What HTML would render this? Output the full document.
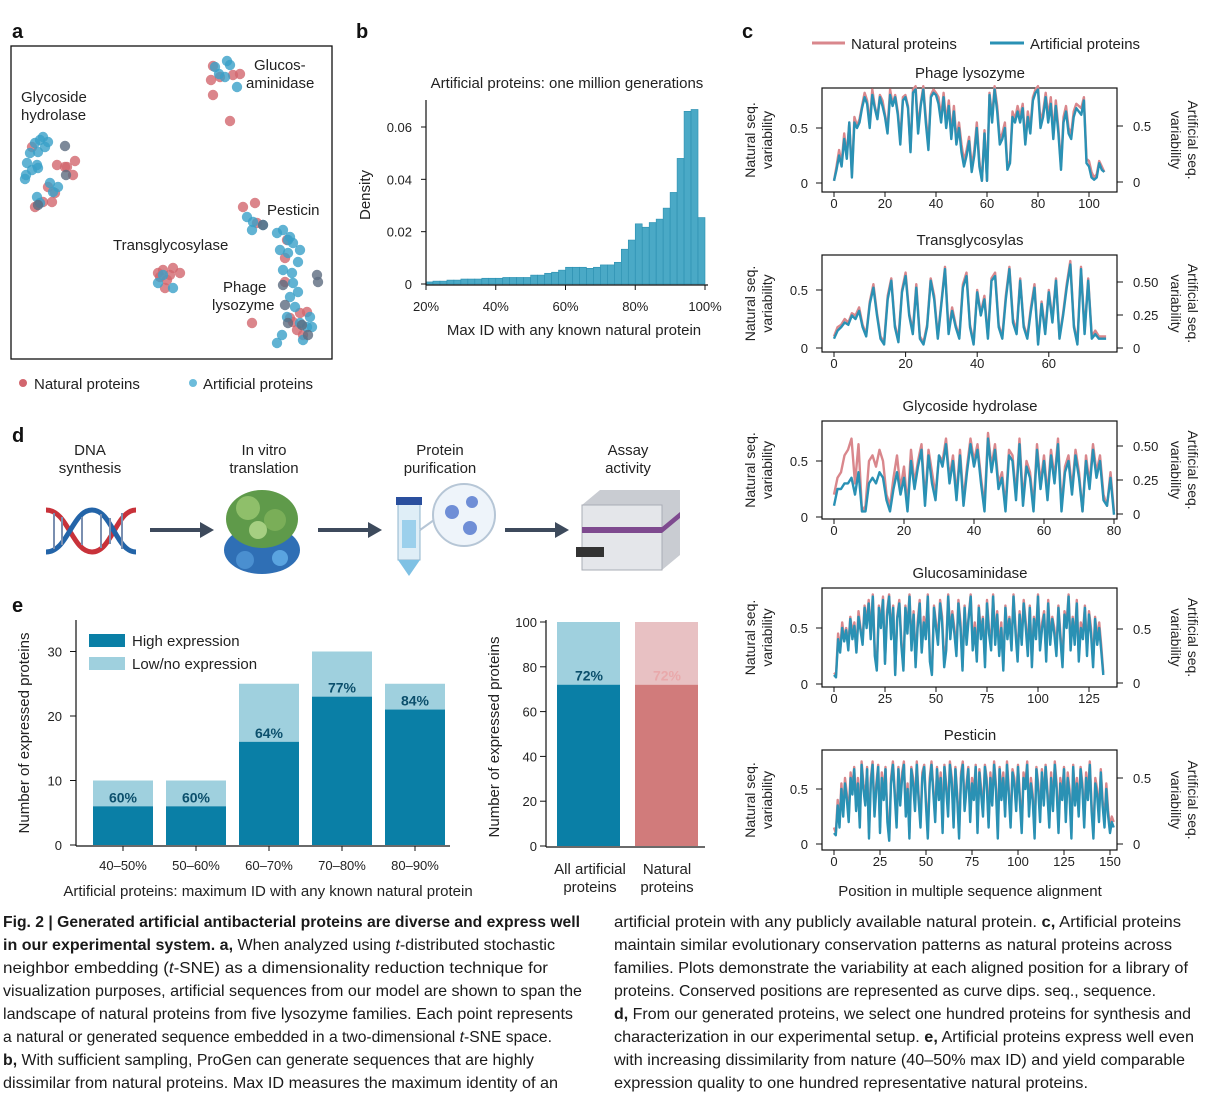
<!DOCTYPE html>
<html><head><meta charset="utf-8"><style>
html,body{margin:0;padding:0;background:#fff;}
svg{display:block;font-family:"Liberation Sans",sans-serif;}
</style></head><body>
<svg id="fig" width="1209" height="1094" viewBox="0 0 1209 1094" xmlns="http://www.w3.org/2000/svg">
<g font-weight="bold" font-size="20" fill="#111">
<text x="12" y="38">a</text>
<text x="356" y="38">b</text>
<text x="742" y="38">c</text>
<text x="12" y="442">d</text>
<text x="12" y="612">e</text>
</g>
<!-- panel a -->
<g id="pa">
<rect x="11" y="46" width="321" height="313" fill="none" stroke="#111" stroke-width="1.3"/>
<g id="pts"></g>
<g font-size="15" fill="#222">
<text x="254" y="70">Glucos-</text>
<text x="246" y="88">aminidase</text>
<text x="21" y="102">Glycoside</text>
<text x="21" y="120">hydrolase</text>
<text x="267" y="215">Pesticin</text>
<text x="113" y="250">Transglycosylase</text>
<text x="223" y="292">Phage</text>
<text x="212" y="310">lysozyme</text>
</g>
<circle cx="23" cy="383" r="4" fill="#d2666e"/>
<text x="34" y="389" font-size="15" fill="#222">Natural proteins</text>
<circle cx="193" cy="383" r="4" fill="#6cbcdb"/>
<text x="203" y="389" font-size="15" fill="#222">Artificial proteins</text>
</g>
<!-- panel b -->
<g id="pb">
<text x="567" y="88" font-size="15" text-anchor="middle" fill="#222">Artificial proteins: one million generations</text>
<g id="hist"></g>
<text transform="translate(370,195) rotate(-90)" font-size="15" text-anchor="middle" fill="#222">Density</text>
<text x="574" y="335" font-size="15" text-anchor="middle" fill="#222">Max ID with any known natural protein</text>
</g>
<!-- panel c -->
<g id="pc">
<line x1="812" y1="43" x2="845" y2="43" stroke="#d9878c" stroke-width="3"/>
<text x="851" y="49" font-size="15" fill="#222">Natural proteins</text>
<line x1="990" y1="43" x2="1024" y2="43" stroke="#2a91b4" stroke-width="3"/>
<text x="1030" y="49" font-size="15" fill="#222">Artificial proteins</text>
<g id="lines"></g>
<text x="970" y="896" font-size="15" text-anchor="middle" fill="#222">Position in multiple sequence alignment</text>
</g>
<!-- panel d -->
<g id="pd" font-size="15" fill="#222" text-anchor="middle">
<text x="90" y="455">DNA</text>
<text x="90" y="473">synthesis</text>
<text x="264" y="455">In vitro</text>
<text x="264" y="473">translation</text>
<text x="440" y="455">Protein</text>
<text x="440" y="473">purification</text>
<text x="628" y="455">Assay</text>
<text x="628" y="473">activity</text>
<g>
<path d="M46,510 C68,510 72,552 92,552 C112,552 116,510 136,510" fill="none" stroke="#c8323a" stroke-width="5"/>
<path d="M46,552 C68,552 72,510 92,510 C112,510 116,552 136,552" fill="none" stroke="#2364a8" stroke-width="5"/>
<g stroke="#7a8fb0" stroke-width="2"><line x1="54" y1="513" x2="54" y2="549"/><line x1="62" y1="517" x2="62" y2="545"/><line x1="101" y1="514" x2="101" y2="548"/><line x1="110" y1="518" x2="110" y2="544"/><line x1="122" y1="513" x2="122" y2="549"/><line x1="82" y1="517" x2="82" y2="545"/></g>
</g>
<g fill="#3d4a5c">
<rect x="150" y="528" width="52" height="4"/><polygon points="200,522 214,530 200,538"/>
<rect x="318" y="528" width="52" height="4"/><polygon points="368,522 382,530 368,538"/>
<rect x="505" y="528" width="52" height="4"/><polygon points="555,522 569,530 555,538"/>
</g>
<g>
<ellipse cx="262" cy="550" rx="38" ry="24" fill="#2f6fb5"/>
<ellipse cx="262" cy="519" rx="36" ry="29" fill="#5f9a4a"/>
<circle cx="248" cy="508" r="12" fill="#8fbf6a"/><circle cx="275" cy="520" r="11" fill="#7aae58"/><circle cx="258" cy="530" r="9" fill="#a6cf82"/>
<circle cx="245" cy="560" r="9" fill="#4a8fd0"/><circle cx="280" cy="558" r="8" fill="#5aa4e0"/>
</g>
<g>
<rect x="398" y="502" width="22" height="58" fill="#dfeef7" stroke="#8fb4cc"/>
<rect x="396" y="497" width="26" height="8" fill="#2a4f9e"/>
<polygon points="398,560 420,560 409,576" fill="#7fc1e4"/>
<rect x="402" y="520" width="14" height="28" fill="#9cd0ec"/>
<circle cx="464" cy="515" r="31" fill="#eef4fa" stroke="#b6c6d6" stroke-width="2"/>
<line x1="420" y1="530" x2="434" y2="520" stroke="#b6c6d6" stroke-width="2"/>
<circle cx="452" cy="512" r="7" fill="#6f8ed6"/><circle cx="472" cy="502" r="6" fill="#6f8ed6"/><circle cx="470" cy="528" r="7" fill="#6f8ed6"/>
</g>
<g>
<polygon points="582,505 600,490 680,490 680,555 662,570 582,570" fill="#c9ccd2"/>
<rect x="582" y="505" width="80" height="65" fill="#e4e6ea" stroke="#a9adb5"/>
<polygon points="582,527 662,527 680,512 680,518 662,533 582,533" fill="#7e4a8f"/>
<rect x="576" y="547" width="28" height="10" fill="#333"/>
</g>
</g>
<!-- panel e -->
<g id="pe">
<g id="bars"></g>
<rect x="89" y="634" width="36" height="13" fill="#0a7fa6"/>
<text x="132" y="646" font-size="15" fill="#222">High expression</text>
<rect x="89" y="657" width="36" height="13" fill="#9fd0de"/>
<text x="132" y="669" font-size="15" fill="#222">Low/no expression</text>
<text transform="translate(29,733) rotate(-90)" font-size="15" text-anchor="middle" fill="#222">Number of expressed proteins</text>
<text x="268" y="896" font-size="15" text-anchor="middle" fill="#222">Artificial proteins: maximum ID with any known natural protein</text>
<text transform="translate(499,737) rotate(-90)" font-size="15" text-anchor="middle" fill="#222">Number of expressed proteins</text>
<g font-size="15" fill="#222" text-anchor="middle">
<text x="590" y="874">All artificial</text>
<text x="590" y="892">proteins</text>
<text x="667" y="874">Natural</text>
<text x="667" y="892">proteins</text>
</g>
</g>
<!-- caption -->
<g font-size="16" fill="#1a1a1a">
<text x="3" y="927" textLength="577" lengthAdjust="spacingAndGlyphs" font-weight="bold">Fig. 2 | Generated artificial antibacterial proteins are diverse and express well</text>
<text x="3" y="950" textLength="552" lengthAdjust="spacingAndGlyphs"><tspan font-weight="bold">in our experimental system. a,</tspan> When analyzed using <tspan font-style="italic">t</tspan>-distributed stochastic</text>
<text x="3" y="973" textLength="545" lengthAdjust="spacingAndGlyphs">neighbor embedding (<tspan font-style="italic">t</tspan>-SNE) as a dimensionality reduction technique for</text>
<text x="3" y="996" textLength="579" lengthAdjust="spacingAndGlyphs">visualization purposes, artificial sequences from our model are shown to span the</text>
<text x="3" y="1019" textLength="570" lengthAdjust="spacingAndGlyphs">landscape of natural proteins from five lysozyme families. Each point represents</text>
<text x="3" y="1042" textLength="549" lengthAdjust="spacingAndGlyphs">a natural or generated sequence embedded in a two-dimensional <tspan font-style="italic">t</tspan>-SNE space.</text>
<text x="3" y="1065" textLength="531" lengthAdjust="spacingAndGlyphs"><tspan font-weight="bold">b,</tspan> With sufficient sampling, ProGen can generate sequences that are highly</text>
<text x="3" y="1088" textLength="555" lengthAdjust="spacingAndGlyphs">dissimilar from natural proteins. Max ID measures the maximum identity of an</text>
<text x="614" y="927" textLength="567" lengthAdjust="spacingAndGlyphs">artificial protein with any publicly available natural protein. <tspan font-weight="bold">c,</tspan> Artificial proteins</text>
<text x="614" y="950" textLength="558" lengthAdjust="spacingAndGlyphs">maintain similar evolutionary conservation patterns as natural proteins across</text>
<text x="614" y="973" textLength="574" lengthAdjust="spacingAndGlyphs">families. Plots demonstrate the variability at each aligned position for a library of</text>
<text x="614" y="996" textLength="542" lengthAdjust="spacingAndGlyphs">proteins. Conserved positions are represented as curve dips. seq., sequence.</text>
<text x="614" y="1019" textLength="577" lengthAdjust="spacingAndGlyphs"><tspan font-weight="bold">d,</tspan> From our generated proteins, we select one hundred proteins for synthesis and</text>
<text x="614" y="1042" textLength="580" lengthAdjust="spacingAndGlyphs">characterization in our experimental setup. <tspan font-weight="bold">e,</tspan> Artificial proteins express well even</text>
<text x="614" y="1065" textLength="571" lengthAdjust="spacingAndGlyphs">with increasing dissimilarity from nature (40–50% max ID) and yield comparable</text>
<text x="614" y="1088" textLength="474" lengthAdjust="spacingAndGlyphs">expression quality to one hundred representative natural proteins.</text>
</g>
</svg>
<script>
// ---------- panel a data (t-SNE coordinates) ----------
const natX=[202,200,209,222,229,202,219, 21,46,56,64,62,54,37,44,41,24,32, 152,162,169,149,156,154,147,159, 232,244,246,276,274,274,241,289,296,282,286,292,279];
const natY=[20,34,31,29,28,49,75, 101,119,121,115,129,121,141,147,156,161,156, 224,222,227,231,234,242,227,229, 161,157,177,194,212,236,277,267,266,276,284,289,272];
const artX=[216,214,226,204,219,208, 32,29,37,24,34,27,19,16,26,21,27,15,14,39,47,42,26,29, 152,162,147, 236,242,241,252,266,272,279,269,282,289,277,287,272,281,282,287,279,284,276,299,289,296,301,271,266,292,277];
const artY=[15,31,41,21,19,28, 91,94,96,97,101,106,107,117,119,124,122,129,133,137,141,146,151,157, 229,242,237, 171,176,184,179,187,184,191,204,197,204,207,216,224,227,237,246,251,261,271,271,277,281,281,289,297,294,194];
const darkX=[54,55,27,252,272,274,306,307,297,277,291];
const darkY=[100,129,159,179,239,259,229,236,289,277,279];
// ---------- panel b data ----------
const histBinStart=[20,22,24,26,28,30,32,34,36,38,40,42,44,46,48,50,52,54,56,58,60,62,64,66,68,70,72,74,76,78,80,82,84,86,88,90,92,94,96,98];
const histDensity=[0.0008,0.0011,0.0011,0.0015,0.0015,0.0019,0.0019,0.0019,0.0022,0.0022,0.0022,0.0025,0.0025,0.0025,0.0025,0.0034,0.0034,0.0041,0.0045,0.0053,0.0064,0.0064,0.0064,0.006,0.0064,0.0073,0.0073,0.0083,0.0133,0.0168,0.0230,0.0217,0.0235,0.0248,0.0290,0.0350,0.0480,0.0660,0.0667,0.0254];
const histYTicks=[0,0.02,0.04,0.06];
const histYTickLabels=["0","0.02","0.04","0.06"];
const histXTicks=[20,40,60,80,100];
const histXTickLabels=["20%","40%","60%","80%","100%"];
// ---------- panel c data (variability x100) ----------
const lysoNatural=[2,15,30,18,45,25,55,8,60,52,58,70,82,75,55,85,70,60,80,75,62,50,85,72,80,65,40,78,80,70,30,85,88,50,72,88,60,35,80,85,82,78,60,82,55,75,45,70,40,55,35,20,30,42,15,30,55,20,2,48,2,82,60,88,70,40,45,55,15,20,65,58,70,60,72,38,65,50,78,85,88,55,65,82,60,78,45,75,50,15,60,70,50,45,65,72,70,68,78,22,20,10,5,8,20,15,10];
const lysoArtificial=[2,12,25,15,40,22,55,5,55,50,55,68,78,72,50,80,68,58,78,70,60,45,80,70,78,62,35,75,78,68,28,82,85,45,70,85,55,30,78,82,80,72,55,78,50,70,40,65,35,50,28,15,25,38,10,25,50,15,2,45,2,80,55,85,65,35,40,50,12,18,60,55,65,55,68,35,60,45,75,82,85,50,60,78,55,72,40,70,45,12,55,65,45,40,60,68,65,62,75,18,15,5,3,5,18,12,10];
const transNatural=[10,18,20,25,22,30,28,35,20,12,40,55,30,10,5,45,60,20,8,50,65,30,15,55,10,5,20,60,45,10,40,70,15,35,20,10,55,65,20,5,50,30,45,10,60,65,20,10,45,70,25,15,60,20,10,35,55,5,40,15,50,25,60,10,30,55,75,20,5,70,15,60,10,15,10,10,10];
const transArtificial=[8,15,18,22,20,28,25,32,18,10,38,52,28,8,3,42,58,18,5,48,62,28,12,52,8,3,18,58,42,8,38,68,12,32,18,8,52,62,18,3,48,28,42,8,58,62,18,8,42,68,22,12,58,18,8,32,52,3,38,12,48,22,58,8,28,52,72,18,3,68,12,58,8,12,8,8,8];
const glyNatural=[20,35,40,55,60,70,30,65,5,10,50,55,45,60,50,20,10,35,55,25,45,10,60,30,50,65,15,60,40,20,55,50,70,35,55,20,60,15,45,70,50,65,35,10,75,45,65,30,40,10,60,55,20,70,15,50,40,10,65,30,55,20,60,35,70,10,45,55,25,60,40,5,55,30,65,40,55,20,10,40,5];
const glyArtificial=[10,25,25,30,30,35,20,40,5,5,30,35,30,40,35,15,5,25,40,20,35,5,50,25,45,60,10,55,30,15,55,45,65,30,50,15,55,10,40,65,45,60,30,5,70,40,60,25,35,5,55,50,15,65,10,45,35,5,60,25,50,15,55,30,65,5,40,50,20,55,35,5,50,25,60,35,50,15,10,35,2];
const glucNatural=[10,8,45,30,55,40,50,35,60,45,55,30,65,50,40,70,55,75,45,80,30,15,70,55,78,20,65,80,45,70,10,60,75,40,15,70,50,80,35,65,20,55,75,30,60,45,80,25,10,70,55,40,75,60,20,35,80,45,65,50,30,75,55,15,70,40,60,80,35,55,25,70,45,60,20,75,50,35,80,40,65,30,55,15,70,45,60,35,80,50,25,65,40,75,55,30,70,20,60,45,80,35,55,65,25,75,40,60,50,30,70,45,20,65,55,80,35,60,40,75,25,55,45,70,30,65,50,20,60,40,55,35,10];
const glucArtificial=[8,6,40,28,50,38,48,30,58,40,52,28,60,48,35,68,50,72,40,78,25,12,68,50,75,18,60,78,40,68,8,58,72,35,12,68,45,78,30,62,15,50,72,28,55,40,78,20,8,68,50,35,72,55,15,30,78,40,62,45,25,72,50,12,68,35,58,78,30,50,20,68,40,58,15,72,45,30,78,35,62,25,50,12,68,40,58,30,78,45,20,62,35,72,50,25,68,15,58,40,78,30,50,62,20,72,35,58,45,25,68,40,15,62,50,78,30,58,35,72,20,50,40,68,25,62,45,15,58,35,50,30,8];
const pestNatural=[15,10,40,20,55,30,60,45,25,65,50,70,35,60,20,75,55,40,70,10,60,75,30,55,72,15,65,45,70,25,5,60,75,50,20,70,40,65,75,30,55,10,70,60,35,75,45,20,65,72,40,10,60,75,50,25,70,45,65,15,72,55,30,75,60,20,70,45,10,65,75,35,55,70,25,60,45,72,15,68,50,30,72,60,20,65,40,75,55,10,70,45,65,30,75,50,20,68,60,35,72,45,15,65,55,75,30,60,45,10,70,55,25,68,40,72,50,20,65,35,75,55,15,60,45,70,25,65,50,10,72,40,60,30,70,55,20,65,45,75,35,10,60,50,25,68,40,20,55,30,15,25,20];
const pestArtificial=[10,8,35,15,50,25,55,40,20,60,45,68,30,55,15,72,50,35,68,5,55,72,25,50,70,10,60,40,68,20,3,55,72,45,15,68,35,60,72,25,50,5,68,55,30,72,40,15,60,70,35,5,55,72,45,20,68,40,60,10,70,50,25,72,55,15,68,40,5,60,72,30,50,68,20,55,40,70,10,65,45,25,70,55,15,60,35,72,50,5,68,40,60,25,72,45,15,65,55,30,70,40,10,60,50,72,25,55,40,5,68,50,20,65,35,70,45,15,60,30,72,50,10,55,40,68,20,60,45,5,70,35,55,25,68,50,15,60,40,72,30,5,55,45,20,65,35,15,50,25,10,20,15];
// ---------- panel e data ----------
const binCategories=["40–50%","50–60%","60–70%","70–80%","80–90%"];
const highExpression=[6,6,16,23,21];
const totalTested=[10,10,25,30,25];
const binPctLabels=["60%","60%","64%","77%","84%"];
const groupCategories=["All artificial","Natural"];
const groupHigh=[72,72];
const groupPctLabels=["72%","72%"];
const eLeftTicks=[0,10,20,30];
const eRightTicks=[0,20,40,60,80,100];

const NS="http://www.w3.org/2000/svg";
function mk(tag,attrs,parent){const e=document.createElementNS(NS,tag);for(const k in attrs)e.setAttribute(k,attrs[k]);parent.appendChild(e);return e;}

// panel a
(function(){
 const g=document.getElementById('pts');
 const sx=v=>11+v, sy=v=>46+v;
 function draw(X,Y,col,name){for(let i=0;i<X.length;i++){const c=mk('circle',{cx:sx(X[i]),cy:sy(Y[i]),r:5.2,fill:col,'fill-opacity':0.8},g);
 
 }}
 draw(natX,natY,'#d2666e','natural-point');
 draw(artX,artY,'#3aa0c8','artificial-point');
 draw(darkX,darkY,'#5d6b7f','overlap-point');
})();

// panel b
(function(){
 const g=document.getElementById('hist');
 const x=v=>426+(v-20)*(279/80), y=v=>284-v*(157/0.06);
 for(let i=0;i<histDensity.length;i++){const r=mk('rect',{x:x(histBinStart[i]),y:y(histDensity[i]),width:x(histBinStart[i]+2)-x(histBinStart[i]),height:284-y(histDensity[i]),fill:'#4aa9c6',stroke:'#2b8fb0','stroke-width':0.6},g);
 
 }
 mk('line',{x1:426,y1:100,x2:426,y2:285,stroke:'#111','stroke-width':1.2},g);
 mk('line',{x1:426,y1:285,x2:708,y2:285,stroke:'#111','stroke-width':1.2},g);
 histYTicks.forEach((t,i)=>{mk('line',{x1:421,y1:y(t),x2:426,y2:y(t),stroke:'#111'},g);const tx=mk('text',{x:412,y:y(t)+5,'font-size':13,'text-anchor':'end',fill:'#222'},g);tx.textContent=histYTickLabels[i];
 
 });
 histXTicks.forEach((t,i)=>{mk('line',{x1:x(t),y1:285,x2:x(t),y2:290,stroke:'#111'},g);const tx=mk('text',{x:x(t),y:311,'font-size':13,'text-anchor':'middle',fill:'#222'},g);tx.textContent=histXTickLabels[i];
 
 });
})();

// panel c
(function(){
 const g=document.getElementById('lines');
 const plots=[
  {t:'Phage lysozyme',nat:lysoNatural,art:lysoArtificial,top:88,bot:192,px:2.55,z:183,h:128,xt:[0,20,40,60,80,100],rt:[[0.5,126,'0.5'],[0,182,'0']]},
  {t:'Transglycosylas',nat:transNatural,art:transArtificial,top:255,bot:352,px:3.58,z:348,h:290,xt:[0,20,40,60],rt:[[0.5,282,'0.50'],[0.25,315,'0.25'],[0,348,'0']]},
  {t:'Glycoside hydrolase',nat:glyNatural,art:glyArtificial,top:421,bot:519,px:3.5,z:517,h:461,xt:[0,20,40,60,80],rt:[[0.5,446,'0.50'],[0.25,480,'0.25'],[0,514,'0']]},
  {t:'Glucosaminidase',nat:glucNatural,art:glucArtificial,top:588,bot:687,px:2.04,z:684,h:628,xt:[0,25,50,75,100,125],rt:[[0.5,629,'0.5'],[0,683,'0']]},
  {t:'Pesticin',nat:pestNatural,art:pestArtificial,top:750,bot:850,px:1.84,z:844,h:789,xt:[0,25,50,75,100,125,150],rt:[[0.5,778,'0.5'],[0,844,'0']]}
 ];
 plots.forEach((p,k)=>{
  const gg=mk('g',{},g);
  
  
  const tt=mk('text',{x:970,y:p.top-10,'font-size':15,'text-anchor':'middle',fill:'#222'},gg);tt.textContent=p.t;
  mk('rect',{x:822,y:p.top,width:295,height:p.bot-p.top,fill:'none',stroke:'#111','stroke-width':1.2},gg);
  const xs=i=>834+i*p.px, ys=v=>p.z-(v/100)*(p.z-p.h)*2;
  [[p.nat,'#d9878c','natural-line'],[p.art,'#2a91b4','artificial-line']].forEach(([arr,col,nm])=>{
   const d=arr.map((v,i)=>(i?'L':'M')+xs(i).toFixed(1)+','+ys(v).toFixed(1)).join('');
   const pa=mk('path',{d:d,fill:'none',stroke:col,'stroke-width':2.4,'stroke-linejoin':'round'},gg);
   
   
  });
  [[0.5,'0.5'],[0,'0']].forEach(([v,l])=>{const yy=p.z-v*(p.z-p.h)*2;mk('line',{x1:816,y1:yy,x2:822,y2:yy,stroke:'#111'},gg);const tx=mk('text',{x:808,y:yy+5,'font-size':13,'text-anchor':'end',fill:'#222'},gg);tx.textContent=l;});
  p.rt.forEach(([v,yy,l])=>{mk('line',{x1:1117,y1:yy,x2:1123,y2:yy,stroke:'#111'},gg);const tx=mk('text',{x:1133,y:yy+5,'font-size':13,fill:'#222'},gg);tx.textContent=l;});
  p.xt.forEach(v=>{mk('line',{x1:xs(v),y1:p.bot,x2:xs(v),y2:p.bot+5,stroke:'#111'},gg);const tx=mk('text',{x:xs(v),y:p.bot+16,'font-size':13,'text-anchor':'middle',fill:'#222'},gg);tx.textContent=v;});
  const mid=(p.top+p.bot)/2;
  const l1=mk('text',{transform:`translate(755,${mid}) rotate(-90)`,'font-size':14,'text-anchor':'middle',fill:'#222'},gg);l1.textContent='Natural seq.';
  const l2=mk('text',{transform:`translate(772,${mid}) rotate(-90)`,'font-size':14,'text-anchor':'middle',fill:'#222'},gg);l2.textContent='variability';
  const r1=mk('text',{transform:`translate(1188,${mid}) rotate(90)`,'font-size':14,'text-anchor':'middle',fill:'#222'},gg);r1.textContent='Artificial seq.';
  const r2=mk('text',{transform:`translate(1171,${mid}) rotate(90)`,'font-size':14,'text-anchor':'middle',fill:'#222'},gg);r2.textContent='variability';
 });
})();

// panel e
(function(){
 const g=document.getElementById('bars');
 const yL=v=>845-v*6.45;
 const xL=[93,166,239,312,385];
 mk('line',{x1:76,y1:620,x2:76,y2:846,stroke:'#111','stroke-width':1.2},g);
 mk('line',{x1:76,y1:846,x2:450,y2:846,stroke:'#111','stroke-width':1.2},g);
 eLeftTicks.forEach(t=>{mk('line',{x1:70,y1:yL(t),x2:76,y2:yL(t),stroke:'#111'},g);const tx=mk('text',{x:62,y:yL(t)+5,'font-size':13,'text-anchor':'end',fill:'#222'},g);tx.textContent=t;});
 binCategories.forEach((c,i)=>{
  const lo=mk('rect',{x:xL[i],y:yL(totalTested[i]),width:60,height:yL(highExpression[i])-yL(totalTested[i]),fill:'#9fd0de'},g);
  
  
  const hi=mk('rect',{x:xL[i],y:yL(highExpression[i]),width:60,height:845-yL(highExpression[i]),fill:'#0a7fa6'},g);
  
  
  const pl=mk('text',{x:xL[i]+30,y:yL(highExpression[i])-4,'font-size':14,'font-weight':'bold','text-anchor':'middle',fill:'#0b4f6c'},g);pl.textContent=binPctLabels[i];
  const xl=mk('text',{x:xL[i]+30,y:870,'font-size':13,'text-anchor':'middle',fill:'#222'},g);xl.textContent=c;
  mk('line',{x1:xL[i]+30,y1:846,x2:xL[i]+30,y2:851,stroke:'#111'},g);
 });
 const yR=v=>846-v*2.24;
 const xR=[557,635];
 const cols=[['#0a7fa6','#9fd0de','#0b4f6c'],['#d17b7b','#e8c1c3','#e9a9ab']];
 mk('line',{x1:546,y1:620,x2:546,y2:847,stroke:'#111','stroke-width':1.2},g);
 mk('line',{x1:546,y1:847,x2:705,y2:847,stroke:'#111','stroke-width':1.2},g);
 eRightTicks.forEach(t=>{mk('line',{x1:540,y1:yR(t),x2:546,y2:yR(t),stroke:'#111'},g);const tx=mk('text',{x:537,y:yR(t)+5,'font-size':13,'text-anchor':'end',fill:'#222'},g);tx.textContent=t;});
 groupCategories.forEach((c,i)=>{
  const lo=mk('rect',{x:xR[i],y:yR(100),width:63,height:yR(groupHigh[i])-yR(100),fill:cols[i][1]},g);
  
  
  const hi=mk('rect',{x:xR[i],y:yR(groupHigh[i]),width:63,height:846-yR(groupHigh[i]),fill:cols[i][0]},g);
  
  
  const pl=mk('text',{x:xR[i]+32,y:yR(groupHigh[i])-4,'font-size':14,'font-weight':'bold','text-anchor':'middle',fill:cols[i][2]},g);pl.textContent=groupPctLabels[i];
 });
})();
</script>
</body></html>
